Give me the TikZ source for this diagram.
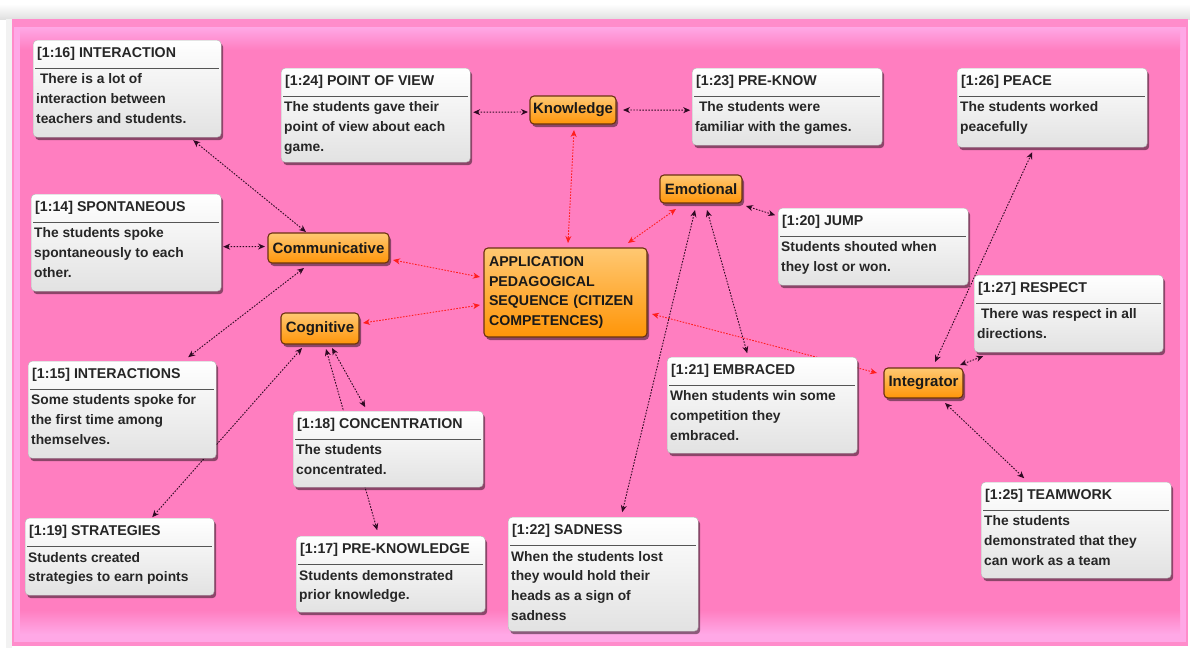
\documentclass[tikz,border=0pt]{standalone}
\usepackage{fontspec}
\setmainfont{Liberation Sans}
\usetikzlibrary{arrows.meta,shadows,calc}
\pgfdeclarelayer{bglayer}
\pgfdeclarelayer{linklayer}
\pgfsetlayers{bglayer,linklayer,main}
\definecolor{pinkbg}{HTML}{FF7EC0}
\definecolor{pinklight}{HTML}{FFA8E6}
\definecolor{pinkedge}{HTML}{FF8CCB}
\definecolor{orangetop}{HTML}{FFC872}
\definecolor{orangebot}{HTML}{FF9508}
\definecolor{orangeborder}{HTML}{6A3210}
\definecolor{linkdark}{HTML}{2E0A22}
\definecolor{linkred}{HTML}{FF1E1E}
\definecolor{memotop}{HTML}{FFFFFF}
\definecolor{memobot}{HTML}{E2E2E2}
\definecolor{sepgrey}{HTML}{555555}
\tikzset{
  memobox/.style={rectangle, rounded corners=4pt, top color=memotop, bottom color=memobot,
    draw=memobot!80!black, line width=0.4pt, inner sep=0pt,
    drop shadow={shadow xshift=2pt, shadow yshift=-3pt, opacity=0.45, fill=black}},
  memotitle/.style={inner sep=0pt, font=\fontsize{14.2}{17}\selectfont\bfseries, text=black!85},
  memobody/.style={inner sep=0pt, align=left, font=\fontsize{13.8}{19.7}\selectfont\bfseries, text=black!85},
  sepline/.style={draw=sepgrey, line width=0.9pt},
  codebox/.style={rectangle, rounded corners=4pt, top color=orangetop, bottom color=orangebot,
    draw=orangeborder, line width=1.1pt, inner sep=0pt, text=black!90,
    font=\fontsize{15}{18}\selectfont\bfseries,
    drop shadow={shadow xshift=2pt, shadow yshift=-3pt, opacity=0.45, fill=black}},
  darklink/.style={draw=linkdark, line width=0.9pt, dash pattern=on 1.6pt off 1.4pt,
    {Stealth[length=7pt,width=6pt]}-{Stealth[length=7pt,width=6pt]}},
  redlink/.style={draw=linkred, line width=0.9pt, dash pattern=on 1.6pt off 1.4pt,
    {Stealth[length=7pt,width=6pt]}-{Stealth[length=7pt,width=6pt]}}
}
\newcommand\memo[7]{%
  \node[memobox, minimum width=#4, minimum height=#5, anchor=north west] (#1) at (#2,#3) {};
  \node[memotitle, anchor=base west] (#1t) at ([shift={(4,17)}]#1.north west) {#6};
  \draw[sepline] ([shift={(2,28)}]#1.north west) -- ([shift={(-2,28)}]#1.north east);
  \node[memobody, anchor=north west] (#1b) at ([shift={(3,30)}]#1.north west) {\strut #7};
}
\begin{document}
\begin{tikzpicture}[x=1pt,y=-1pt]
\useasboundingbox (0,0) rectangle (1190,648);
% background
\begin{pgfonlayer}{bglayer}
\fill[white] (0,0) rectangle (1190,648);
\shade[top color=white, bottom color=black!12] (0,4) rectangle (1190,19);
\fill[black!5] (6,19) rectangle (12,648);
\fill[pinkedge] (12,19) rectangle (1188,646);
\fill[pinklight] (14,27) rectangle (1186,642);
\shade[top color=pinklight, bottom color=pinkbg] (20,27) rectangle (1180,50);
\fill[pinkbg] (20,50) rectangle (1180,633);
\shade[top color=pinkbg, bottom color=pinklight] (20,610) rectangle (1180,634);
\end{pgfonlayer}

% memos
\memo{m16}{33}{40}{188}{97}{[1:16] INTERACTION}{\ There is a lot of\\interaction between\\teachers and students.}
\memo{m24}{281}{68}{189}{94}{[1:24] POINT OF VIEW}{The students gave their\\point of view about each\\game.}
\memo{m23}{692}{68}{190}{77}{[1:23] PRE-KNOW}{\ The students were\\familiar with the games.}
\memo{m26}{957}{68}{190}{79}{[1:26] PEACE}{The students worked\\peacefully}
\memo{m14}{31}{194}{190}{97}{[1:14] SPONTANEOUS}{The students spoke\\spontaneously to each\\other.}
\memo{m20}{778}{208}{190}{77}{[1:20] JUMP}{Students shouted when\\they lost or won.}
\memo{m27}{974}{275}{189}{77}{[1:27] RESPECT}{\ There was respect in all\\directions.}
\memo{m15}{28}{361}{188}{97}{[1:15] INTERACTIONS}{Some students spoke for\\the first time among\\themselves.}
\memo{m21}{667}{357}{190}{96}{[1:21] EMBRACED}{When students win some\\competition they\\embraced.}
\memo{m18}{293}{411}{190}{76}{[1:18] CONCENTRATION}{The students\\concentrated.}
\memo{m25}{981}{482}{190}{96}{[1:25] TEAMWORK}{The students\\demonstrated that they\\can work as a team}
\memo{m19}{25}{518}{189}{77}{[1:19] STRATEGIES}{Students created\\strategies to earn points}
\memo{m17}{296}{536}{189}{76}{[1:17] PRE-KNOWLEDGE}{Students demonstrated\\prior knowledge.}
\memo{m22}{508}{517}{190}{114}{[1:22] SADNESS}{When the students lost\\they would hold their\\heads as a sign of\\sadness}

% codes
\node[codebox, minimum width=86, minimum height=28] (know) at (573,110) {Knowledge};
\node[codebox, minimum width=82, minimum height=28] (emo) at (701,189) {Emotional};
\node[codebox, minimum width=121, minimum height=30] (comm) at (328.5,248) {Communicative};
\node[codebox, minimum width=78, minimum height=31] (cog) at (320,328.5) {Cognitive};
\node[codebox, minimum width=79, minimum height=30] (integ) at (923.5,383) {Integrator};
\node[codebox, minimum width=163, minimum height=89, text width=153, inner xsep=5, inner ysep=4,
  align=left, font=\fontsize{14.2}{19.7}\selectfont\bfseries] (cen) at (565.5,292.5)
  {APPLICATION\\PEDAGOGICAL\\SEQUENCE (CITIZEN\\COMPETENCES)};

\begin{pgfonlayer}{linklayer}
% dark links
\draw[darklink] ([shift={(66,51.5)}]m16.center) -- ([shift={(-22.5,-16)}]comm.center);
\draw[darklink] ([shift={(97,4)}]m14.center) -- ([shift={(-63.5,-1.5)}]comm.center);
\draw[darklink] ([shift={(-24.5,20)}]comm.center) -- ([shift={(66,-52.5)}]m15.center);
\draw[darklink] ([shift={(-18,19.5)}]cog.center) -- ([shift={(32.5,-39.5)}]m19.center);
\draw[darklink] ([shift={(12,19.5)}]cog.center) -- ([shift={(-23,-42)}]m18.center);
\draw[darklink] ([shift={(6,20.5)}]cog.center) -- ([shift={(-13.5,-44)}]m17.center);
\draw[darklink] ([shift={(97.5,-3)}]m24.center) -- ([shift={(-45,2)}]know.center);
\draw[darklink] ([shift={(50,0)}]know.center) -- ([shift={(-97,3.5)}]m23.center);
\draw[darklink] ([shift={(45,17)}]emo.center) -- ([shift={(-98,-31.5)}]m20.center);
\draw[darklink] ([shift={(6,21)}]emo.center) -- ([shift={(-15,-52)}]m21.center);
\draw[darklink] ([shift={(-6,21)}]emo.center) -- ([shift={(19,-62)}]m22.center);
\draw[darklink] ([shift={(11.5,-21)}]integ.center) -- ([shift={(-20,44.5)}]m26.center);
\draw[darklink] ([shift={(36.5,-18)}]integ.center) -- ([shift={(-85.5,42.5)}]m27.center);
\draw[darklink] ([shift={(21.5,20)}]integ.center) -- ([shift={(-52,-52)}]m25.center);
% red links
\draw[redlink] ([shift={(1,20)}]know.center) -- ([shift={(2.5,-49.5)}]cen.center);
\draw[redlink] ([shift={(-25,20)}]emo.center) -- ([shift={(62.5,-49.5)}]cen.center);
\draw[redlink] ([shift={(64.5,12)}]comm.center) -- ([shift={(-85.5,-15.5)}]cen.center);
\draw[redlink] ([shift={(43,-5.5)}]cog.center) -- ([shift={(-85.5,12.5)}]cen.center);
\draw[redlink] ([shift={(-46.5,-10)}]integ.center) -- ([shift={(86.5,21.5)}]cen.center);
\end{pgfonlayer}
\end{tikzpicture}
\end{document}
